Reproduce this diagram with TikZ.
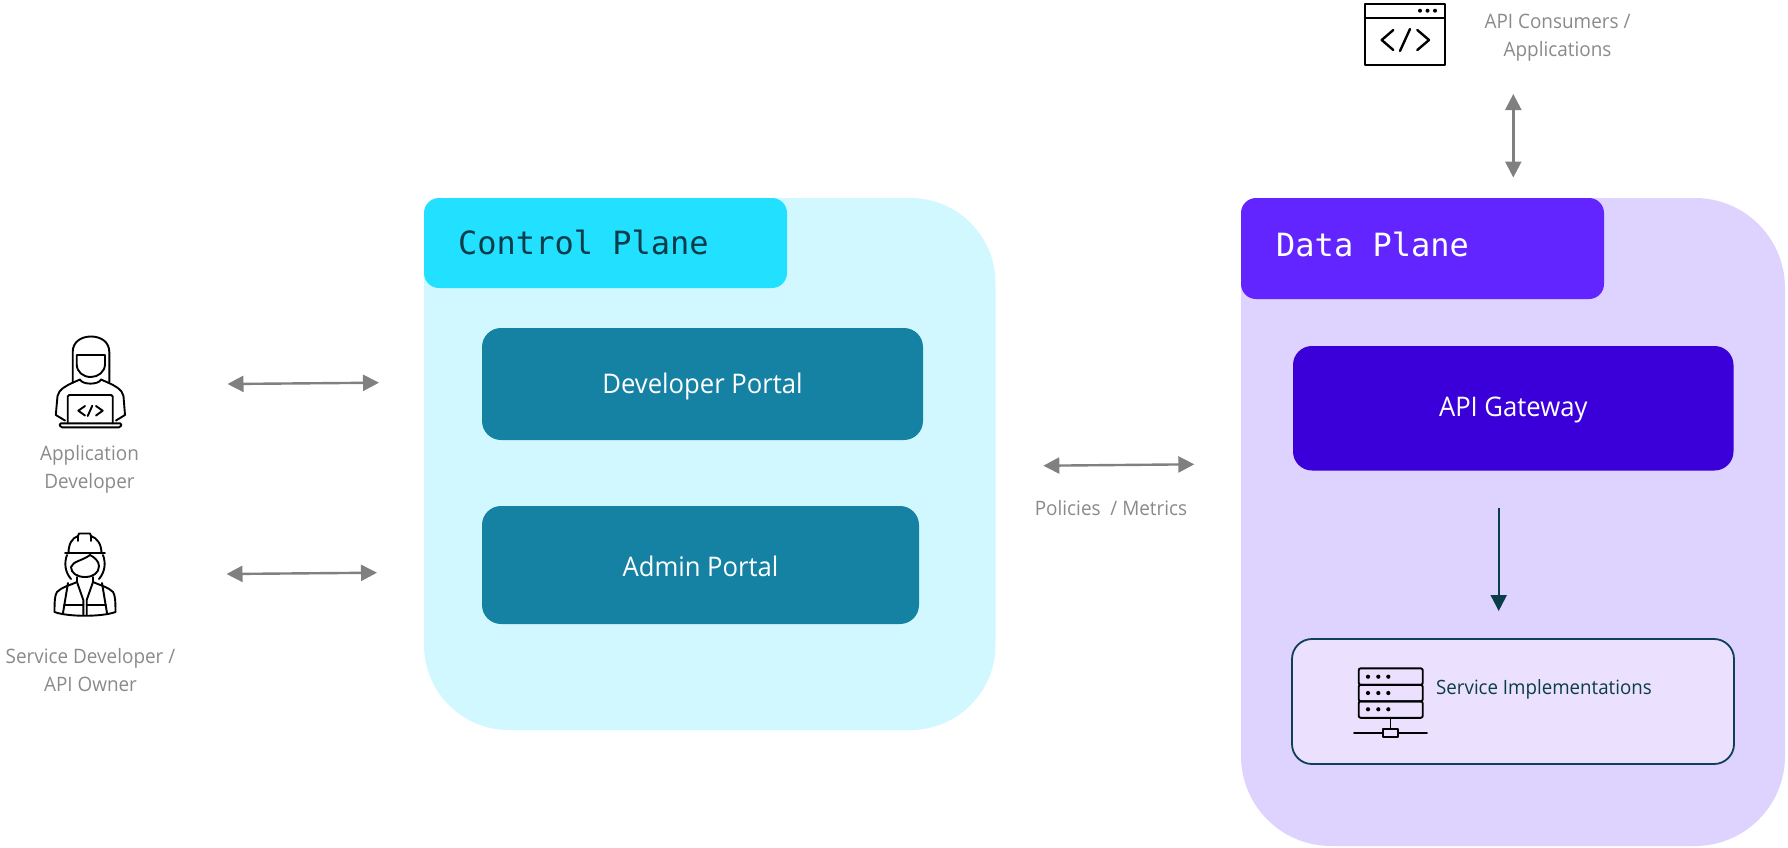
\documentclass[tikz,border=0pt]{standalone}
\usepackage{fontspec}
\setmainfont{Open Sans}[FakeStretch=0.95]
\newfontfamily\monof{DejaVu Sans Mono}
\usetikzlibrary{arrows.meta}
\definecolor{ctlbg}{HTML}{D1F8FF}
\definecolor{ctlhead}{HTML}{22E0FF}
\definecolor{portal}{HTML}{1582A4}
\definecolor{databg}{HTML}{DED3FE}
\definecolor{datahead}{HTML}{6325FF}
\definecolor{gw}{HTML}{3B00D9}
\definecolor{svc}{HTML}{EBE1FF}
\definecolor{ink}{HTML}{0B3C49}
\definecolor{svcline}{HTML}{0F4057}
\definecolor{greyt}{HTML}{8A8A8A}
\definecolor{greya}{HTML}{808080}
\tikzset{
  panel/.style={rectangle,inner sep=0pt,outer sep=0pt,draw=none,rounded corners=85pt},
  headbox/.style={rectangle,inner sep=0pt,outer sep=0pt,draw=none,rounded corners=15pt},
  compbox/.style={rectangle,inner sep=0pt,outer sep=0pt,draw=none,rounded corners=19pt},
  comptext/.style={inner sep=0pt,text=white,font=\fontsize{27}{32}\selectfont},
  headtext/.style={inner sep=0pt,font=\monof\fontsize{32}{36}\selectfont},
  graylabel/.style={inner sep=0pt,align=center,text=greyt,font=\fontsize{19.9}{27.5}\selectfont},
  bothway/.style={draw=greya,line width=2.4pt,{Triangle[length=16pt,width=16pt]}-{Triangle[length=16pt,width=16pt]}},
  oneway/.style={draw=ink,line width=2pt,-{Triangle[length=16pt,width=16pt]}},
  icon/.style={draw=black,line width=1.9pt,line cap=round,line join=round},
  dotmark/.style={fill=black,draw=none}
}
\begin{document}
\begin{tikzpicture}[x=1pt,y=-1pt]
\useasboundingbox (0,0) rectangle (1788,847);
% panels
\node[panel,fill=ctlbg,minimum width=571.5pt,minimum height=532pt] (ctl) at (709.75,464) {};
\node[headbox,fill=ctlhead,minimum width=363pt,minimum height=90pt] (ctlh) at (605.5,243) {};
\node[headtext,text=ink,anchor=west] (ctlt) at (458,242) {Control Plane};
\node[compbox,fill=portal,minimum width=441pt,minimum height=112pt] (dev) at (702.5,384) {};
\node[comptext] (devt) at (702.5,386) {Developer Portal};
\node[compbox,fill=portal,minimum width=437pt,minimum height=118pt] (adm) at (700.5,565) {};
\node[comptext] (admt) at (700.5,566) {Admin Portal};
\node[panel,fill=databg,minimum width=544pt,minimum height=648pt,rounded corners=90pt] (dat) at (1513,522) {};
\node[headbox,fill=datahead,minimum width=363pt,minimum height=101pt] (dath) at (1422.5,248.5) {};
\node[headtext,text=white,anchor=west] (datt) at (1276,244.5) {Data Plane};
\node[compbox,fill=gw,minimum width=440.5pt,minimum height=124.5pt] (gate) at (1513.25,408.25) {};
\node[comptext] (gatet) at (1513.25,410) {API Gateway};
\node[rectangle,inner sep=0pt,outer sep=0pt,draw=svcline,line width=1.8pt,fill=svc,rounded corners=20pt,minimum width=442pt,minimum height=125pt] (serv) at (1513,701.5) {};
\node[inner sep=0pt,anchor=west,text=ink,font=\fontsize{19.7}{24}\selectfont] (servt) at (1436,689) {Service Implementations};
% labels
\node[graylabel] (l1) at (89.5,469.5) {Application\\Developer};
\node[graylabel] (l2) at (90.5,670) {Service Developer /\\API Owner};
\node[graylabel] (l3) at (1557.5,37.5) {API Consumers /\\Applications};
\node[graylabel] (l4) at (1111,508) {Policies\ \ / Metrics};
% connectors
\coordinate (a1l) at (227.5,384); \coordinate (a1r) at (379,382.7);
\coordinate (a2l) at (226.5,574); \coordinate (a2r) at (377,572.7);
\coordinate (a3t) at (1513.3,94); \coordinate (a3b) at (1513.3,177.5);
\coordinate (a4l) at (1043.3,465.7); \coordinate (a4r) at (1194.3,464.3);
\coordinate (a5t) at (1498.7,507.5); \coordinate (a5b) at (1498.7,611);
\draw[bothway] (a1l) -- (a1r);
\draw[bothway] (a2l) -- (a2r);
\draw[bothway] (a3t) -- (a3b);
\draw[bothway] (a4l) -- (a4r);
\draw[oneway] (a5t) -- (a5b);
% application developer icon
\begin{scope}[icon]
\draw (72.7,382) -- (72.7,352) .. controls (72.7,342) and (81,336.5) .. (91,336.5) .. controls (101,336.5) and (109.3,342) .. (109.3,352) -- (109.3,382);
\draw (76.7,355) -- (105,355) -- (105,364) .. controls (105,372) and (98,377) .. (90.8,377) .. controls (83,377) and (76.7,372) .. (76.7,364) -- cycle;
\draw (72.7,382.7) .. controls (66,386) and (59,389) .. (57.5,396) -- (55.8,415) -- (65,420.5);
\draw (108.3,382.7) .. controls (115,386) and (122,389) .. (123.5,396) -- (125,415) -- (116,420.5);
\draw (72.7,382.7) -- (80,379.5) .. controls (82,385) and (99,385) .. (101,379.5) -- (108.3,382.7);
\draw[rounded corners=1.5pt] (67.7,423.3) -- (67.7,395) -- (112.7,395) -- (112.7,423.3);
\draw[rounded corners=1.5pt] (59.3,423.3) -- (121.7,423.3) -- (120.5,427.3) -- (60.5,427.3) -- cycle;
\draw (85,406) -- (78.3,410.7) -- (85,415.5);
\draw (92.3,405.7) -- (87.7,416);
\draw (96,406) -- (102.7,410.7) -- (96,415.5);
\end{scope}
% service developer icon
\begin{scope}[icon]
\draw (65,553.3) -- (105,553.3);
\draw (68.5,553.3) .. controls (68.5,544) and (72,538) .. (78,536) -- (79,533.5) -- (90,533.5) -- (91,536) .. controls (97,538) and (101.5,544) .. (101.5,553.3);
\draw (78,536) -- (78,541); \draw (91,536) -- (91,541);
\draw (67,555) .. controls (64,563) and (65,572) .. (71,579);
\draw (103,555) .. controls (106,563) and (105,572) .. (99,579);
\draw (71,567) .. controls (73,561) and (82,561) .. (90,555) .. controls (94,557) and (99,561) .. (99,566) .. controls (99,573) and (93,577) .. (85,577) .. controls (77,577) and (71,573) .. (71,567);
\draw (77,577) -- (77,582) .. controls (68,586) and (62,587) .. (57,592) .. controls (55,595) and (54.5,600) .. (54.5,612);
\draw (93,577) -- (93,582) .. controls (102,586) and (108,587) .. (113,592) .. controls (115,595) and (115.5,600) .. (115.5,612);
\draw (54.5,612) .. controls (68,617) and (102,617) .. (115.5,612);
\draw (68,583) -- (63,613);
\draw (102,583) -- (107,613);
\draw (77,582) -- (83.3,600) -- (83.3,615);
\draw (93,582) -- (86.7,600) -- (86.7,615);
\draw (64,605) -- (83.3,605); \draw (86.7,605) -- (106,605);
\end{scope}
% browser icon
\begin{scope}[icon,line width=2.4pt]
\draw (1365,4) rectangle (1445,65);
\draw (1365,17.7) -- (1445,17.7);
\draw (1393.3,30) -- (1381.7,40) -- (1393.3,50);
\draw (1410,29) -- (1400,51);
\draw (1417.3,30) -- (1429,40) -- (1417.3,50);
\end{scope}
\foreach \x in {1420,1427.5,1435} \fill[dotmark] (\x,10.7) circle[radius=2pt];
% server icon
\begin{scope}[icon]
\foreach \y in {668.3,684.8,701.3}
  \draw[rounded corners=2pt] (1358.7,\y) rectangle (1422.7,\y+16.5);
\draw (1390.5,717.8) -- (1390.5,729);
\draw (1354,733) -- (1383,733);
\draw (1398,733) -- (1427,733);
\draw (1383,729) rectangle (1398,737.3);
\end{scope}
\foreach \y in {676.7,693,709.3}
  \foreach \x in {1368,1378.3,1388.3}
    \fill[dotmark] (\x,\y) circle[radius=2.1pt];
\end{tikzpicture}
\end{document}
